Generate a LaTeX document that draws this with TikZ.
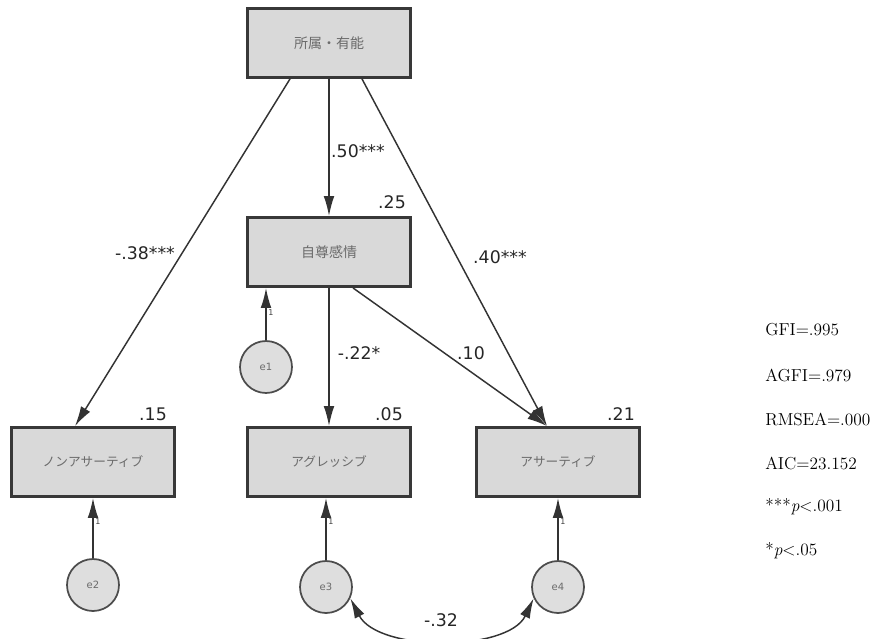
\documentclass[tikz,border=0pt]{standalone}
\usepackage{fontspec}
\usepackage{tikz}
\usetikzlibrary{positioning}
\usetikzlibrary{arrows.meta}
\usetikzlibrary{calc}
\newfontfamily\jpfont{Noto Sans CJK JP}
\newfontfamily\labelfont{DejaVu Sans}
\definecolor{boxFill}{rgb}{0.85,0.85,0.85}
\definecolor{boxLine}{rgb}{0.22,0.22,0.22}
\definecolor{errFill}{rgb}{0.87,0.87,0.87}
\definecolor{textGray}{rgb}{0.42,0.42,0.42}

\begin{document}
\begin{tikzpicture}[x=0.75pt,y=-0.75pt]

          \tikzstyle{varNode} = [draw=boxLine, line width=1.9pt, fill=boxFill, minimum width=122pt, minimum height=52pt, inner sep=0pt, text=textGray, font=\jpfont\fontsize{10.5}{12}\selectfont];
          \tikzstyle{kataNode} = [varNode, font=\jpfont\fontsize{9.5}{11}\selectfont];
          \tikzstyle{errNode} = [circle, draw=boxLine!90, line width=1.3pt, fill=errFill, minimum size=39pt, inner sep=0pt, text=textGray, font=\labelfont\fontsize{7.5}{9}\selectfont];
          \tikzstyle{coefLabel} = [black!85, font=\labelfont\fontsize{13}{15}\selectfont];
          \tikzstyle{oneLabel} = [black!75, font=\labelfont\fontsize{6}{7}\selectfont];
          \tikzstyle{fitLabel} = [anchor=west, inner sep=0pt, font=\fontsize{13}{15}\selectfont];

          \tikzstyle{pathEdge} = [line width=1.1pt, black!80, -{Latex[length=15pt,width=8pt]}];
          \tikzstyle{covEdge} = [line width=1.1pt, black!80, {Latex[length=15pt,width=8pt]}-{Latex[length=15pt,width=8pt]}];

          \useasboundingbox (0,0) rectangle (875,639);

          \node[varNode] (belong) at (329,43) {所属・有能};
          \node[varNode] (selfest) at (329,252) {自尊感情};
          \node[kataNode] (nonas) at (93,462) {ノンアサーティブ};
          \node[kataNode] (aggr) at (329,462) {アグレッシブ};
          \node[kataNode] (asser) at (558,462) {アサーティブ};

          \node[errNode] (e1) at (266,367) {e1};
          \node[errNode] (e2) at (93,585) {e2};
          \node[errNode] (e3) at (326,587) {e3};
          \node[errNode] (e4) at (558,587) {e4};

          \draw[pathEdge] ($(belong.south)+(-39,0)$) -- ($(nonas.north)+(-18,0)$);
          \draw[pathEdge] (belong.south) -- (selfest.north);
          \draw[pathEdge] ($(belong.south)+(33,0)$) -- ($(asser.north)+(-11,0)$);
          \draw[pathEdge] (selfest.south) -- (aggr.north);
          \draw[pathEdge] ($(selfest.south)+(24,0)$) -- ($(asser.north)+(-11,0)$);

          \draw[pathEdge] (e1.north) -- (e1.north |- selfest.south);
          \draw[pathEdge] (e2.north) -- (e2.north |- nonas.south);
          \draw[pathEdge] (e3.north) -- (e3.north |- aggr.south);
          \draw[pathEdge] (e4.north) -- (e4.north |- asser.south);
          \draw[covEdge] (e3.-25) .. controls (378,652) and (508,652) .. (e4.205);

          \node[coefLabel] (c38) at (145,253) {-.38***};
          \node[coefLabel] (c50) at (358,151) {.50***};
          \node[coefLabel] (c40) at (500,257) {.40***};
          \node[coefLabel] (c22) at (359,353) {-.22*};
          \node[coefLabel] (c10) at (471,353) {.10};
          \node[coefLabel] (c32) at (441,620) {-.32};

          \node[coefLabel] (r25) at (392,202) {.25};
          \node[coefLabel] (r15) at (153,414) {.15};
          \node[coefLabel] (r05) at (389,414) {.05};
          \node[coefLabel] (r21) at (621,414) {.21};

          \node[oneLabel] (o1) at (271,313) {1};
          \node[oneLabel] (o2) at (98,522) {1};
          \node[oneLabel] (o3) at (331,522) {1};
          \node[oneLabel] (o4) at (563,522) {1};

          \node[fitLabel] (gfi) at (765,330) {GFI=.995};
          \node[fitLabel] (agfi) at (765,375) {AGFI=.979};
          \node[fitLabel] (rmsea) at (765,419) {RMSEA=.000};
          \node[fitLabel] (aic) at (765,463) {AIC=23.152};
          \node[fitLabel] (p001) at (765,507) {***\textit{p}<.001};
          \node[fitLabel] (p05) at (765,551) {*\textit{p}<.05};
        \end{tikzpicture}
\end{document}
